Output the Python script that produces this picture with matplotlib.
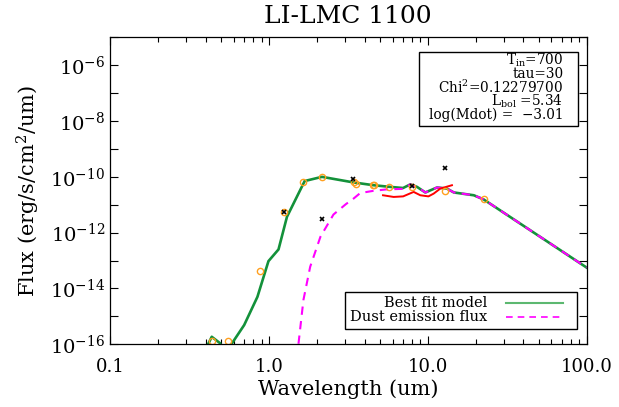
import numpy as np
import matplotlib
matplotlib.use("Agg")
import matplotlib.pyplot as plt
from matplotlib.patches import Rectangle
from matplotlib.ticker import NullFormatter

plt.rcParams['font.family'] = 'DejaVu Serif'
plt.rcParams['mathtext.fontset'] = 'dejavuserif'

# best fit model (wavelength in um, log10 flux)
model_wl = [0.41, 0.437, 0.493, 0.54, 0.585, 0.699, 0.847, 0.994, 1.15, 1.30, 1.68, 2.16,
            3.41, 4.56, 5.81, 6.99, 7.77, 8.56, 9.66, 11.45, 13.2, 14.6, 19.5, 22.5, 100.0]
model_logf = [-16.05, -15.73, -15.96, -16.6, -15.97, -15.31, -14.30, -13.02, -12.60, -11.43, -10.15, -10.0,
              -10.20, -10.30, -10.36, -10.40, -10.27, -10.36, -10.56, -10.38, -10.42, -10.56, -10.66, -10.81, -13.25]

# dust emission flux
dust_wl = [1.50, 1.65, 1.82, 2.11, 2.55, 3.05, 3.41, 3.76, 4.56, 5.5, 6.99, 7.77, 8.56, 9.66,
           11.45, 13.2, 14.6, 19.5, 22.5, 100.0]
dust_logf = [-16.5, -14.41, -13.22, -12.15, -11.35, -10.98, -10.78, -10.58, -10.50, -10.45, -10.43, -10.27,
             -10.36, -10.56, -10.38, -10.42, -10.56, -10.66, -10.81, -13.25]

# IRS spectrum
spec_wl = [5.23, 6.1, 7.0, 8.15, 8.98, 10.1, 10.9, 12.0, 14.2]
spec_logf = [-10.66, -10.72, -10.70, -10.54, -10.66, -10.70, -10.60, -10.42, -10.30]

# photometry
phot_wl = [0.441, 0.552, 0.881, 1.25, 1.64, 2.16, 3.41, 3.55, 4.5, 4.6, 5.74, 7.96, 12.9, 22.5]
phot_logf = [-15.87, -15.87, -13.39, -11.26, -10.20, -10.0, -10.2, -10.25, -10.3, -10.3, -10.35, -10.36,
             -10.49, -10.80]

# observed (x markers)
obs_wl = [1.25, 2.16, 3.38, 7.93, 12.8]
obs_logf = [-11.26, -11.52, -10.09, -10.34, -9.67]

fig = plt.figure(figsize=(6.19, 4.07), dpi=100)
ax = fig.add_axes([0.1777, 0.154, 0.770, 0.7544])

green = '#13913a'
ax.plot(model_wl, 10 ** np.array(model_logf), color=green, lw=1.9)
ax.plot(dust_wl, 10 ** np.array(dust_logf), color='#ff00ff', lw=1.5, ls=(0, (4, 3)))
ax.plot(spec_wl, 10 ** np.array(spec_logf), color='red', lw=1.4)
ax.plot(phot_wl, 10 ** np.array(phot_logf), 'o', mfc='none', mec='#ffa020', ms=4.5, mew=1.0)
ax.plot(obs_wl, 10 ** np.array(obs_logf), 'x', color='black', ms=3.5, mew=1.2)

ax.set_xscale('log')
ax.set_yscale('log')
ax.set_xlim(0.1, 100)
ax.set_ylim(1e-16, 1e-5)
ax.set_xticks([0.1, 1, 10, 100], ['0.1', '1.0', '10.0', '100.0'])
yt = [1e-16, 1e-14, 1e-12, 1e-10, 1e-8, 1e-6]
ax.set_yticks(yt, [r'$10^{%d}$' % int(np.log10(v)) for v in yt])
ax.set_yticks([1e-15, 1e-13, 1e-11, 1e-9, 1e-7, 1e-5], minor=True)
ax.yaxis.set_minor_formatter(NullFormatter())
ax.xaxis.set_minor_formatter(NullFormatter())
ax.tick_params(which='both', direction='in', top=True, right=True, labelsize=13, width=0.8)
ax.tick_params(which='major', length=6)
ax.tick_params(axis='x', which='minor', length=3.5, width=0.8)
ax.tick_params(axis='y', which='minor', length=6, width=0.8)
ax.tick_params(axis='x', pad=10)
ax.tick_params(axis='y', labelsize=14)
for s in ax.spines.values():
    s.set_linewidth(0.9)

ax.set_xlabel('Wavelength (um)', fontsize=15, labelpad=2)
ax.set_ylabel(r'Flux (erg/s/cm$^2$/um)', fontsize=15, labelpad=6)
ax.set_title('LI-LMC 1100', fontsize=18, pad=10)

# parameter box
ax.add_patch(Rectangle((0.649, 0.711), 0.332, 0.242, transform=ax.transAxes,
                       fill=False, lw=1.0, ec='black'))
params = [r'T$_{\rm in}$=700', 'tau=30', r'Chi$^{2}$=0.12279700',
          r'L$_{\rm bol}$ =5.34', 'log(Mdot) =  \u22123.01']
ypos = [0.924, 0.880, 0.837, 0.793, 0.748]
for t, yy in zip(params, ypos):
    ax.text(0.951, yy, t, transform=ax.transAxes, ha='right', va='center', fontsize=9.8)

# legend box
ax.add_patch(Rectangle((0.493, 0.050), 0.486, 0.121, transform=ax.transAxes,
                       fill=False, lw=1.0, ec='black'))
ax.text(0.792, 0.1355, 'Best fit model', transform=ax.transAxes, ha='right', va='center', fontsize=10.5)
ax.text(0.792, 0.088, 'Dust emission flux', transform=ax.transAxes, ha='right', va='center', fontsize=10.5)
ax.plot([0.831, 0.950], [0.1355, 0.1355], transform=ax.transAxes, color='#5cb870', lw=1.5)
ax.plot([0.831, 0.950], [0.088, 0.088], transform=ax.transAxes, color='#ff00ff', lw=1.2, ls=(0, (4, 3)))

fig.savefig('out.png', dpi=100)
